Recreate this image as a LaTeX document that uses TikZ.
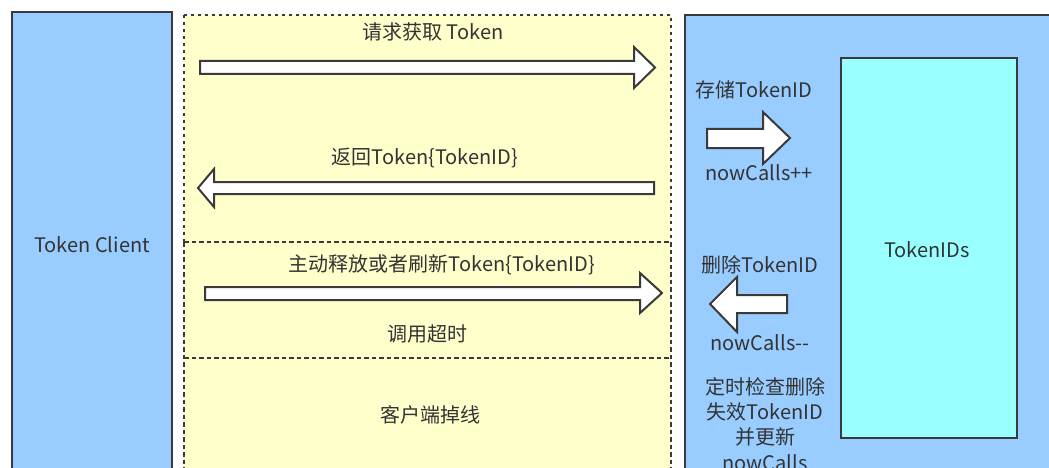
\documentclass[tikz,border=0pt]{standalone}
\usepackage{fontspec}
\setmainfont{Noto Sans CJK SC}
\definecolor{bord}{HTML}{3A3A3A}
\definecolor{txt}{HTML}{333333}
\definecolor{lblue}{HTML}{99CCFF}
\definecolor{lyel}{HTML}{FFFFCC}
\definecolor{lcyan}{HTML}{99FFFF}
\tikzset{
  panel/.style={draw=bord, line width=2pt},
  dotbox/.style={draw=bord, line width=2.2pt, dash pattern=on 3pt off 4pt},
  dashbox/.style={draw=bord, line width=2pt, dash pattern=on 4.5pt off 3pt},
  blockarrow/.style={draw=bord, fill=white, line width=2pt, line join=miter},
  lbl/.style={text=txt, font=\fontsize{20}{24}\selectfont, inner sep=0pt, align=center},
}
\begin{document}
\begin{tikzpicture}[x=1pt,y=-1pt]
\useasboundingbox (0,0) rectangle (1049,468);
\fill[white] (0,0) rectangle (1049,468);
\begin{scope}
\clip (0,0) rectangle (1049,468);
% left client box
\path[panel, fill=lblue] (12,12) rectangle (172,480);
% yellow regions
\fill[lyel] (184,15) rectangle (671,480);
\draw[dotbox] (184,15) -- (671,15) -- (671,242);
\draw[dotbox] (184,242) -- (184,15);
\draw[dashbox] (184,242) -- (671,242);
\draw[dashbox] (184,242) -- (184,480);
\draw[dashbox] (671,242) -- (671,480);
\draw[dashbox] (184,358) -- (671,358);
% right panel
\path[panel, fill=lblue] (685,15) rectangle (1060,480);
\path[panel, fill=lcyan] (841,58) rectangle (1017,438);
\end{scope}
% block arrows
\draw[blockarrow] (200,61) -- (634,61) -- (634,47) -- (655,67.5) -- (634,88) -- (634,74) -- (200,74) -- cycle;
\draw[blockarrow] (654,182) -- (214,182) -- (214,169) -- (198,188) -- (214,207) -- (214,194) -- (654,194) -- cycle;
\draw[blockarrow] (205,287) -- (640,287) -- (640,273) -- (662,293) -- (640,313) -- (640,300) -- (205,300) -- cycle;
\draw[blockarrow] (707,129) -- (763,129) -- (763,112) -- (790,138) -- (763,164) -- (763,148) -- (707,148) -- cycle;
\draw[blockarrow] (787,295) -- (737,295) -- (737,277) -- (710,304) -- (737,332) -- (737,313) -- (787,313) -- cycle;
% labels
\node[lbl] (client) at (92,245) {Token Client};
\node[lbl] (req) at (433,32) {请求获取 Token};
\node[lbl] (ret) at (425,158) {返回Token\{TokenID\}};
\node[lbl] (rel) at (442,265) {主动释放或者刷新Token\{TokenID\}};
\node[lbl] (timeout) at (427,334) {调用超时};
\node[lbl] (drop) at (430,415) {客户端掉线};
\node[lbl] (store) at (754,90) {存储TokenID};
\node[lbl] (inc) at (759,173) {nowCalls++};
\node[lbl] (ids) at (927,250) {TokenIDs};
\node[lbl] (del) at (760,265) {删除TokenID};
\node[lbl] (dec) at (760,343) {nowCalls{-}{-}};
\node[lbl, font=\fontsize{20}{25.3}\selectfont] (check) at (765,424) {定时检查删除\\失效TokenID\\并更新\\nowCalls};
\end{tikzpicture}
\end{document}
